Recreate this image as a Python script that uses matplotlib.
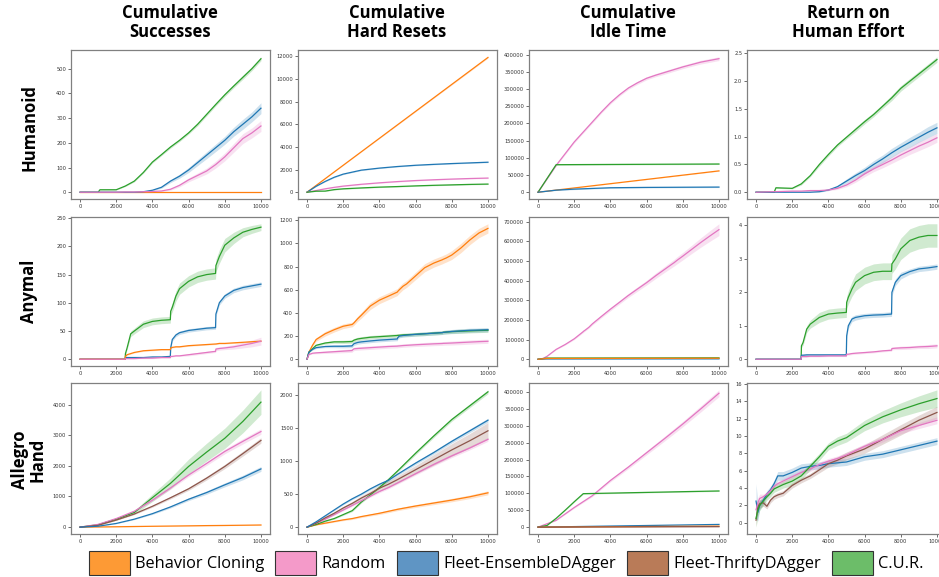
import numpy as np
import matplotlib
matplotlib.use('Agg')
import matplotlib.pyplot as plt
from matplotlib.patches import Patch
from matplotlib.ticker import MultipleLocator

# methods (legend order) and colours
labels = ['Behavior Cloning', 'Random', 'Fleet-EnsembleDAgger',
          'Fleet-ThriftyDAgger', 'C.U.R.']
keys = ['bc', 'rand', 'ens', 'thr', 'cur']
line_col = {'bc': '#ff7f0e', 'rand': '#e377c2', 'ens': '#1f77b4',
            'thr': '#8c564b', 'cur': '#2ca02c'}
patch_col = ['#fd9a35', '#f49ac9', '#5f95c4', '#b97b58', '#6cbd69']

col_titles = ['Cumulative\nSuccesses', 'Cumulative\nHard Resets',
              'Cumulative\nIdle Time', 'Return on\nHuman Effort']
row_titles = ['Humanoid', 'Anymal', 'Allegro\nHand']

# ---------------- Humanoid ----------------
hum_x = [0, 1000, 1100, 2000, 2500, 3000, 3500, 4000, 4500, 5000, 5500,
         6000, 6500, 7000, 7500, 8000, 8500, 9000, 9500, 10000]

hum_succ_bc_x = [0, 10000]
hum_succ_bc = [0, 0]
hum_succ_rand = [0, 0, 0, 0, 1, 1, 2, 3, 5, 12, 28, 50, 68, 86, 112, 143, 180, 217, 240, 268]
hum_succ_rand_sd = [0, 0, 0, 0, 0, 1, 1, 1, 2, 4, 6, 8, 10, 12, 14, 16, 18, 20, 20, 22]
hum_succ_ens = [0, 0, 0, 0, 0, 0, 2, 8, 20, 45, 65, 90, 120, 150, 180, 210, 245, 275, 305, 340]
hum_succ_ens_sd = [0, 0, 0, 0, 0, 0, 1, 2, 4, 6, 8, 10, 12, 14, 15, 16, 18, 20, 20, 22]
hum_succ_cur = [0, 0, 10, 10, 25, 45, 80, 122, 152, 183, 210, 240, 275, 315, 355, 394, 430, 465, 500, 540]
hum_succ_cur_sd = [0, 0, 1, 1, 2, 3, 3, 4, 4, 5, 5, 5, 6, 6, 6, 7, 7, 8, 8, 8]

hum_reset_x = [0, 500, 1000, 1500, 2000, 3000, 4000, 5000, 6000, 7000, 8000, 9000, 10000]
hum_reset_bc_x = [0, 10000]
hum_reset_bc = [0, 11900]
hum_reset_rand = [0, 150, 300, 430, 540, 700, 830, 940, 1030, 1100, 1160, 1210, 1250]
hum_reset_ens = [0, 520, 950, 1320, 1600, 1950, 2130, 2270, 2380, 2460, 2530, 2590, 2650]
hum_reset_cur = [0, 90, 100, 230, 300, 380, 450, 500, 560, 610, 650, 690, 720]
hum_reset_sd = [0, 20, 30, 40, 40, 40, 40, 40, 40, 40, 40, 40, 40]

hum_idle_x = [0, 500, 1000, 1500, 2000, 2500, 3000, 3500, 4000, 4500, 5000,
              5500, 6000, 6500, 7000, 7500, 8000, 8500, 9000, 9500, 10000]
hum_idle_rand = [0, 39000, 78000, 112000, 146000, 175000, 204000, 233000, 260000, 283000,
                 303000, 318000, 331000, 340000, 348000, 356000, 364000, 371000, 378000,
                 383000, 388000]
hum_idle_rand_sd = [0, 1000, 2000, 2500, 3000, 3000, 3500, 3500, 4000, 4000, 4000, 4500,
                    4500, 4500, 5000, 5000, 5000, 5000, 5500, 5500, 5500]
hum_idle_bc_x = [0, 10000]
hum_idle_bc = [0, 62000]
hum_idle_ens_x = [0, 1000, 2000, 3000, 4000, 6000, 8000, 10000]
hum_idle_ens = [0, 6000, 9000, 11000, 13000, 14000, 14500, 15000]
hum_idle_cur_x = [0, 1000, 10000]
hum_idle_cur = [0, 80000, 82000]

hum_roi_rand = [0, 0.01, 0.01, 0.02, 0.02, 0.03, 0.03, 0.04, 0.07, 0.13, 0.22, 0.33, 0.42,
                0.5, 0.58, 0.67, 0.75, 0.83, 0.9, 0.98]
hum_roi_rand_sd = [0, 0, 0, 0, 0, 0.01, 0.01, 0.01, 0.02, 0.03, 0.04, 0.05, 0.05, 0.06,
                   0.06, 0.07, 0.07, 0.08, 0.08, 0.08]
hum_roi_ens = [0, 0, 0, 0, 0, 0, 0.01, 0.04, 0.1, 0.2, 0.3, 0.39, 0.5, 0.6, 0.71, 0.81,
               0.9, 0.99, 1.08, 1.16]
hum_roi_ens_sd = [0, 0, 0, 0, 0, 0, 0.01, 0.01, 0.02, 0.04, 0.05, 0.06, 0.07, 0.07, 0.08,
                  0.08, 0.09, 0.09, 0.1, 0.1]
hum_roi_cur = [0, 0, 0.08, 0.07, 0.15, 0.3, 0.5, 0.68, 0.85, 0.99, 1.13, 1.27, 1.4, 1.55,
               1.7, 1.87, 2.0, 2.13, 2.26, 2.39]
hum_roi_cur_sd = [0, 0, 0.01, 0.01, 0.02, 0.02, 0.03, 0.03, 0.03, 0.03, 0.04, 0.04, 0.04,
                  0.04, 0.05, 0.05, 0.05, 0.05, 0.05, 0.05]

# ---------------- Anymal ----------------
any_x = [0, 100, 300, 500, 1000, 1500, 2000, 2490, 2510, 2600, 2800, 3000, 3500, 4000,
         4500, 4990, 5010, 5100, 5300, 5500, 6000, 6500, 7000, 7490, 7510, 7700, 8000,
         8500, 9000, 9500, 10000]

any_succ_bc = [0, 0, 0, 0, 0, 0, 0, 0, 5, 8, 10, 12, 15, 16, 17, 17,
               20, 21, 22, 22, 24, 25, 26, 27, 27, 28, 28, 29, 30, 31, 32]
any_succ_bc_sd = [0, 0, 0, 0, 0, 0, 0, 0, 1, 1, 1, 1, 1, 1, 1, 1,
                  1, 1, 1, 1, 1, 1, 1, 1, 1, 1, 1, 1, 1, 1, 1]
any_succ_rand = [0, 0, 0, 0, 0, 0, 0, 0, 1, 1, 1, 1, 2, 2, 3, 3,
                 5, 5, 6, 6, 8, 10, 12, 14, 18, 19, 20, 22, 25, 28, 32]
any_succ_rand_sd = [0, 0, 0, 0, 0, 0, 0, 0, 0, 0, 0, 0, 1, 1, 1, 1,
                    1, 1, 1, 1, 2, 2, 2, 2, 3, 3, 3, 4, 5, 6, 7]
any_succ_ens = [0, 0, 0, 0, 0, 0, 0, 0, 3, 3, 3, 3, 3, 4, 4, 5,
                20, 35, 43, 47, 51, 53, 55, 56, 80, 100, 112, 122, 127, 130, 133]
any_succ_ens_sd = [0, 0, 0, 0, 0, 0, 0, 0, 1, 1, 1, 1, 1, 1, 1, 1,
                   3, 3, 3, 3, 3, 3, 3, 3, 4, 4, 4, 4, 4, 4, 4]
any_succ_cur = [0, 0, 0, 0, 0, 0, 0, 0, 10, 20, 45, 50, 62, 67, 69, 70,
                85, 92, 112, 125, 138, 146, 150, 152, 166, 182, 202, 215, 225, 230, 234]
any_succ_cur_sd = [0, 0, 0, 0, 0, 0, 0, 0, 2, 3, 5, 5, 6, 6, 6, 6,
                   7, 8, 9, 10, 10, 10, 10, 10, 11, 12, 12, 10, 8, 7, 6]

any_reset_bc = [0, 60, 120, 170, 220, 255, 285, 300, 302, 315, 350, 380, 460, 510, 545, 580,
                585, 600, 630, 650, 720, 790, 830, 860, 862, 875, 900, 960, 1030, 1090, 1130]
any_reset_bc_sd = [0, 5, 10, 15, 20, 20, 20, 20, 20, 20, 22, 25, 30, 30, 30, 30,
                   30, 30, 30, 30, 32, 35, 35, 35, 35, 35, 38, 40, 40, 40, 40]
any_reset_rand = [0, 40, 52, 55, 60, 65, 70, 75, 80, 90, 93, 95, 100, 105, 110, 113,
                  114, 115, 118, 120, 125, 129, 133, 136, 137, 138, 140, 144, 148, 152, 155]
any_reset_ens = [0, 60, 85, 100, 110, 112, 112, 115, 120, 135, 145, 150, 158, 165, 170, 175,
                 185, 200, 205, 208, 215, 220, 225, 230, 232, 235, 240, 245, 250, 252, 255]
any_reset_cur = [0, 60, 90, 120, 140, 150, 150, 153, 156, 165, 175, 180, 190, 195, 200, 205,
                 206, 207, 210, 212, 215, 220, 225, 230, 232, 235, 238, 242, 245, 248, 250]
any_reset_sd = [0, 4, 6, 8, 10, 12, 14, 15, 15, 15, 15, 15, 15, 15, 15, 15,
                15, 15, 15, 15, 15, 16, 16, 16, 16, 16, 17, 18, 18, 18, 18]

any_idle_rand = [0, 0, 5000, 15000, 50000, 75000, 104000, 140000, 142000, 148000, 162000,
                 180000, 218000, 255000, 290000, 325000, 326000, 332000, 345000, 358000,
                 390000, 425000, 458000, 490000, 491000, 505000, 525000, 560000, 595000,
                 628000, 660000]
any_idle_rand_sd = [0, 0, 0, 1000, 2000, 3000, 4000, 5000, 5000, 5000, 5000, 6000, 7000,
                    8000, 9000, 10000, 10000, 10000, 11000, 11000, 12000, 14000, 15000,
                    17000, 17000, 18000, 19000, 21000, 24000, 27000, 30000]
any_idle_flat_x = [0, 500, 10000]
any_idle_bc = [0, 4000, 5000]
any_idle_ens = [0, 1500, 2000]
any_idle_cur = [0, 6000, 7000]

any_roi_rand = [0, 0, 0, 0, 0, 0, 0, 0, 0.08, 0.08, 0.08, 0.09, 0.09, 0.1, 0.1, 0.1,
                0.15, 0.15, 0.17, 0.18, 0.2, 0.22, 0.25, 0.27, 0.32, 0.33, 0.34, 0.35,
                0.37, 0.38, 0.4]
any_roi_rand_sd = [0, 0, 0, 0, 0, 0, 0, 0, 0.02, 0.02, 0.02, 0.02, 0.02, 0.02, 0.02, 0.02,
                   0.03, 0.03, 0.03, 0.03, 0.03, 0.03, 0.03, 0.03, 0.04, 0.04, 0.05, 0.05,
                   0.05, 0.06, 0.06]
any_roi_ens = [0, 0, 0, 0, 0, 0, 0, 0, 0.12, 0.12, 0.13, 0.13, 0.13, 0.13, 0.13, 0.13,
               0.7, 1.0, 1.2, 1.25, 1.3, 1.32, 1.33, 1.35, 2.0, 2.3, 2.5, 2.62, 2.7, 2.73, 2.77]
any_roi_ens_sd = [0, 0, 0, 0, 0, 0, 0, 0, 0.03, 0.03, 0.03, 0.03, 0.03, 0.03, 0.03, 0.03,
                  0.08, 0.08, 0.08, 0.08, 0.07, 0.07, 0.07, 0.07, 0.1, 0.1, 0.1, 0.08,
                  0.08, 0.08, 0.08]
any_roi_cur = [0, 0, 0, 0, 0, 0, 0, 0, 0.4, 0.5, 0.9, 1.05, 1.25, 1.35, 1.38, 1.4,
               1.7, 1.85, 2.1, 2.3, 2.5, 2.6, 2.63, 2.63, 2.85, 3.0, 3.3, 3.55, 3.65, 3.7, 3.7]
any_roi_cur_sd = [0, 0, 0, 0, 0, 0, 0, 0, 0.05, 0.08, 0.1, 0.12, 0.15, 0.15, 0.15, 0.15,
                  0.18, 0.2, 0.22, 0.25, 0.25, 0.25, 0.25, 0.25, 0.28, 0.3, 0.32, 0.35,
                  0.35, 0.35, 0.35]

# ---------------- Allegro Hand ----------------
all_x = [0, 1000, 2000, 3000, 4000, 5000, 6000, 7000, 8000, 9000, 10000]

all_succ_bc = [0, 5, 12, 20, 28, 35, 42, 50, 55, 62, 70]
all_succ_bc_sd = [0, 2, 3, 4, 5, 6, 7, 8, 8, 9, 10]
all_succ_rand = [0, 90, 280, 520, 880, 1280, 1700, 2080, 2470, 2800, 3120]
all_succ_rand_sd = [0, 5, 15, 25, 35, 45, 55, 65, 75, 85, 90]
all_succ_ens = [0, 30, 120, 260, 440, 660, 910, 1130, 1380, 1620, 1900]
all_succ_ens_sd = [0, 3, 8, 15, 25, 35, 45, 55, 65, 75, 80]
all_succ_thr = [0, 60, 230, 430, 680, 960, 1250, 1600, 1980, 2400, 2830]
all_succ_thr_sd = [0, 5, 10, 20, 30, 40, 50, 60, 70, 80, 90]
all_succ_cur = [0, 80, 260, 480, 960, 1430, 1980, 2450, 2900, 3450, 4080]
all_succ_cur_sd = [0, 10, 30, 60, 120, 180, 240, 290, 330, 370, 400]

all_reset_x = [0, 500, 1000, 1500, 2000, 2500, 3000, 3500, 4000, 4500, 5000, 6000, 7000,
               8000, 9000, 10000]
all_reset_bc = [0, 35, 60, 85, 110, 130, 160, 185, 210, 240, 270, 320, 365, 410, 460, 520]
all_reset_rand = [0, 60, 120, 190, 260, 330, 400, 470, 540, 600, 670, 810, 950, 1080, 1200, 1330]
all_reset_ens = [0, 80, 170, 260, 350, 430, 500, 580, 650, 710, 800, 970, 1130, 1300, 1460, 1620]
all_reset_thr = [0, 60, 140, 210, 290, 360, 440, 510, 590, 650, 720, 870, 1020, 1170, 1310, 1460]
all_reset_cur = [0, 40, 90, 130, 190, 250, 380, 490, 600, 720, 850, 1120, 1380, 1630, 1840, 2050]
all_reset_sd = [0, 5, 8, 10, 12, 14, 15, 16, 18, 20, 20, 22, 24, 26, 28, 30]
all_reset_thr_sd = [0, 10, 15, 20, 25, 30, 35, 40, 45, 50, 55, 65, 80, 95, 110, 125]

all_idle_rand = [0, 20000, 58000, 93000, 138000, 178000, 220000, 262000, 305000, 350000, 396000]
all_idle_rand_sd = [0, 1000, 2000, 3000, 4000, 5000, 6000, 7000, 8000, 9000, 10000]
all_idle_cur_x = [0, 500, 1000, 1500, 2000, 2500, 10000]
all_idle_cur = [0, 5000, 26000, 50000, 75000, 99000, 107000]
all_idle_flat_x = [0, 10000]
all_idle_bc = [0, 3000]
all_idle_ens = [0, 8000]
all_idle_thr = [0, 1500]

all_roi_x = [0, 100, 200, 400, 600, 800, 1000, 1200, 1500, 2000, 2500, 3000, 3500, 4000,
             4500, 5000, 6000, 7000, 8000, 9000, 10000]
all_roi_rand = [1.5, 2.3, 2.8, 3.0, 3.3, 3.7, 4.2, 4.5, 4.8, 5.3, 5.8, 6.2, 6.7, 7.1, 7.4,
                7.8, 8.8, 9.6, 10.6, 11.2, 11.8]
all_roi_rand_sd = [0.8, 0.6, 0.5, 0.3, 0.3, 0.3, 0.3, 0.3, 0.3, 0.3, 0.3, 0.3, 0.3, 0.3,
                   0.3, 0.3, 0.3, 0.3, 0.35, 0.35, 0.4]
all_roi_ens = [2.5, 1.2, 2.0, 2.6, 3.3, 3.8, 4.5, 5.4, 5.4, 5.8, 6.3, 6.5, 6.6, 6.8, 6.9,
               7.0, 7.6, 7.9, 8.4, 8.9, 9.4]
all_roi_ens_sd = [2.0, 1.0, 0.5, 0.4, 0.4, 0.4, 0.4, 0.5, 0.5, 0.5, 0.5, 0.4, 0.4, 0.4,
                  0.4, 0.4, 0.4, 0.4, 0.4, 0.4, 0.4]
all_roi_thr = [0.3, 1.8, 2.2, 2.3, 1.9, 2.6, 3.0, 3.2, 3.4, 4.3, 4.9, 5.4, 6.1, 6.8, 7.2,
               7.7, 8.5, 9.6, 10.7, 11.8, 12.7]
all_roi_thr_sd = [0.7, 0.6, 0.5, 0.4, 0.3, 0.3, 0.3, 0.3, 0.3, 0.3, 0.3, 0.3, 0.35, 0.4,
                  0.4, 0.45, 0.5, 0.55, 0.6, 0.6, 0.7]
all_roi_cur = [0.5, 1.5, 2.0, 2.5, 3.0, 3.4, 3.9, 4.1, 4.4, 4.8, 5.4, 6.5, 7.6, 8.8, 9.4,
               9.8, 11.2, 12.2, 13.0, 13.7, 14.3]
all_roi_cur_sd = [1.0, 0.8, 0.6, 0.5, 0.4, 0.4, 0.4, 0.4, 0.4, 0.5, 0.4, 0.4, 0.4, 0.4,
                  0.5, 0.5, 0.6, 0.7, 0.8, 0.9, 1.0]


def z(x):
    # band of zero width for curves where no spread is visible
    return [0] * len(x)


# every panel: list of (method, x, mean, std)
panels = [
    [
        [('bc', hum_succ_bc_x, hum_succ_bc, z(hum_succ_bc_x)),
         ('cur', hum_x, hum_succ_cur, hum_succ_cur_sd),
         ('ens', hum_x, hum_succ_ens, hum_succ_ens_sd),
         ('rand', hum_x, hum_succ_rand, hum_succ_rand_sd)],
        [('bc', hum_reset_bc_x, hum_reset_bc, [0, 60]),
         ('ens', hum_reset_x, hum_reset_ens, hum_reset_sd),
         ('rand', hum_reset_x, hum_reset_rand, hum_reset_sd),
         ('cur', hum_reset_x, hum_reset_cur, hum_reset_sd)],
        [('rand', hum_idle_x, hum_idle_rand, hum_idle_rand_sd),
         ('cur', hum_idle_cur_x, hum_idle_cur, [0, 1500, 1500]),
         ('bc', hum_idle_bc_x, hum_idle_bc, [0, 1000]),
         ('ens', hum_idle_ens_x, hum_idle_ens, [0, 1000, 1500, 1500, 1500, 1500, 1500, 1500])],
        [('cur', hum_x, hum_roi_cur, hum_roi_cur_sd),
         ('ens', hum_x, hum_roi_ens, hum_roi_ens_sd),
         ('rand', hum_x, hum_roi_rand, hum_roi_rand_sd)],
    ],
    [
        [('cur', any_x, any_succ_cur, any_succ_cur_sd),
         ('ens', any_x, any_succ_ens, any_succ_ens_sd),
         ('bc', any_x, any_succ_bc, any_succ_bc_sd),
         ('rand', any_x, any_succ_rand, any_succ_rand_sd)],
        [('bc', any_x, any_reset_bc, any_reset_bc_sd),
         ('cur', any_x, any_reset_cur, any_reset_sd),
         ('ens', any_x, any_reset_ens, any_reset_sd),
         ('rand', any_x, any_reset_rand, any_reset_sd)],
        [('rand', any_x, any_idle_rand, any_idle_rand_sd),
         ('cur', any_idle_flat_x, any_idle_cur, [0, 1500, 1500]),
         ('ens', any_idle_flat_x, any_idle_ens, [0, 800, 800]),
         ('bc', any_idle_flat_x, any_idle_bc, [0, 1500, 1500])],
        [('cur', any_x, any_roi_cur, any_roi_cur_sd),
         ('ens', any_x, any_roi_ens, any_roi_ens_sd),
         ('rand', any_x, any_roi_rand, any_roi_rand_sd)],
    ],
    [
        [('bc', all_x, all_succ_bc, all_succ_bc_sd),
         ('cur', all_x, all_succ_cur, all_succ_cur_sd),
         ('rand', all_x, all_succ_rand, all_succ_rand_sd),
         ('thr', all_x, all_succ_thr, all_succ_thr_sd),
         ('ens', all_x, all_succ_ens, all_succ_ens_sd)],
        [('bc', all_reset_x, all_reset_bc, all_reset_sd),
         ('cur', all_reset_x, all_reset_cur, all_reset_sd),
         ('rand', all_reset_x, all_reset_rand, all_reset_sd),
         ('thr', all_reset_x, all_reset_thr, all_reset_thr_sd),
         ('ens', all_reset_x, all_reset_ens, all_reset_sd)],
        [('rand', all_x, all_idle_rand, all_idle_rand_sd),
         ('cur', all_idle_cur_x, all_idle_cur, [0, 500, 800, 1000, 1000, 1500, 1500]),
         ('ens', all_idle_flat_x, all_idle_ens, [0, 800]),
         ('bc', all_idle_flat_x, all_idle_bc, [0, 800]),
         ('thr', all_idle_flat_x, all_idle_thr, [0, 800])],
        [('ens', all_roi_x, all_roi_ens, all_roi_ens_sd),
         ('thr', all_roi_x, all_roi_thr, all_roi_thr_sd),
         ('rand', all_roi_x, all_roi_rand, all_roi_rand_sd),
         ('cur', all_roi_x, all_roi_cur, all_roi_cur_sd)],
    ],
]

# y tick spacing per panel
ysteps = [[100, 2000, 50000, 0.5],
          [50, 200, 100000, 1],
          [1000, 500, 50000, 2]]

# axes layout in pixels (figure is 939 x 577)
W, H = 939., 577.
lefts = [71, 298, 529, 747]
tops = [50, 217, 383]
bots = [199, 366, 534]
aw = 199

fig = plt.figure(figsize=(9.39, 5.77), dpi=100)

for r in range(3):
    for c in range(4):
        ax = fig.add_axes([lefts[c] / W, 1 - bots[r] / H, aw / W, (bots[r] - tops[r]) / H])
        for k, x, y, s in panels[r][c]:
            x = np.array(x, dtype=float)
            y = np.array(y, dtype=float)
            s = np.array(s, dtype=float)
            ax.fill_between(x, y - s, y + s, color=line_col[k], alpha=0.22, lw=0)
            ax.plot(x, y, color=line_col[k], lw=0.9)
        ax.xaxis.set_major_locator(MultipleLocator(2000))
        ax.yaxis.set_major_locator(MultipleLocator(ysteps[r][c]))
        ax.ticklabel_format(style='plain', useOffset=False)
        ax.tick_params(labelsize=3.7, length=2, width=0.5, pad=1.5,
                       colors='#333333')
        for sp in ax.spines.values():
            sp.set_color('#808080')
            sp.set_linewidth(0.9)

# column and row titles
xc = [170, 397, 628, 848]
for c in range(4):
    fig.text(xc[c] / W, 1 - 4 / H, col_titles[c], ha='center', va='top',
             fontsize=12, fontweight='bold', family='Open Sans', linespacing=1.05)

yc = [128, 291, 460]
for r in range(3):
    fig.text(29 / W, 1 - yc[r] / H, row_titles[r], ha='center', va='center',
             rotation=90, fontsize=12, fontweight='bold', family='Open Sans',
             linespacing=1.0)

# legend at the bottom
handles = [Patch(facecolor=patch_col[i], edgecolor='#333333', lw=0.8, label=labels[i])
           for i in range(5)]
fig.legend(handles=handles, loc='lower center', bbox_to_anchor=(0.539, -0.022),
           ncol=5, frameon=False, prop={'family': 'Open Sans', 'size': 11.8},
           handlelength=2.5, handleheight=1.85, handletextpad=0.3, columnspacing=0.7)

fig.savefig('out.png', dpi=100)
